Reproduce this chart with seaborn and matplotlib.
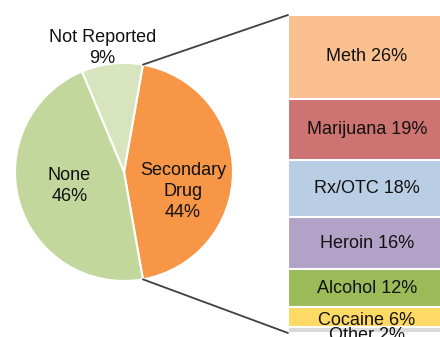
import matplotlib
matplotlib.use("Agg")
import matplotlib.pyplot as plt
from matplotlib.patches import ConnectionPatch
import seaborn as sns
import pandas as pd
import numpy as np

sns.set_theme(style="white")
plt.rcParams["font.family"] = ["Liberation Sans", "DejaVu Sans"]

# Top-level split of cases
pie_labels = ["Secondary\nDrug", "Not Reported", "None"]
pie_values = [44, 9, 46]
pie_colors = ["#F79646", "#D7E4BD", "#C3D69B"]

# Breakdown of the secondary drug slice
drug_labels = ["Meth", "Marijuana", "Rx/OTC", "Heroin", "Alcohol", "Cocaine", "Other"]
drug_values = [26, 19, 18, 16, 12, 6, 2]
drug_colors = ["#FAC090", "#CD7371", "#B9CDE5", "#B3A2C7", "#9BBB59", "#FFD966", "#D9D9D9"]

W, H = 440, 337
fig = plt.figure(figsize=(W / 100, H / 100), dpi=100)

# Pie: centre (124, 172) px, radius 109 px
cx, cy, r = 124, 172, 109
ax_pie = fig.add_axes([(cx - r) / W, (H - cy - r) / H, 2 * r / W, 2 * r / H])
span = pie_values[0] / sum(pie_values) * 360
ax_pie.pie(pie_values, colors=pie_colors, startangle=-span / 2, counterclock=True,
           wedgeprops=dict(edgecolor="white", linewidth=1.5))
ax_pie.set_xlim(-1, 1)
ax_pie.set_ylim(-1, 1)
ax_pie.set_aspect("auto")
ax_pie.axis("off")

label_pos = {
    "Secondary\nDrug": (0.54, -0.18),
    "Not Reported": (-0.20, 1.14),
    "None": (-0.50, -0.13),
}
for lab, val in zip(pie_labels, pie_values):
    x, y = label_pos[lab]
    ax_pie.text(x, y, f"{lab}\n{val}%", ha="center", va="center", fontsize=13,
                color="#111111", linespacing=1.3, clip_on=False)

# Stacked bar: left edge 288 px, spanning y 15..333 px
top_px, bot_px, left_px, right_px = 15, 333, 288, 446
ax_bar = fig.add_axes([left_px / W, (H - bot_px) / H, (right_px - left_px) / W,
                       (bot_px - top_px) / H])
total = sum(drug_values)
cum = list(np.cumsum(drug_values))
df = pd.DataFrame({"drug": drug_labels, "cum": cum, "value": drug_values,
                   "color": drug_colors, "cat": ["all"] * len(drug_labels)})

# Overlay cumulative bars, deepest first, so each segment shows on top of the next
for _, row in df.iloc[::-1].iterrows():
    sns.barplot(x=[row["cat"]], y=[row["cum"]], color=row["color"], width=1.0,
                edgecolor="white", linewidth=1.5, saturation=1, ax=ax_bar)

ax_bar.set_xlim(-0.5, 0.5)
ax_bar.set_ylim(total, 0)
ax_bar.axis("off")

# Thin segments at the bottom get their labels nudged downward
label_shift = {"Cocaine": 1.0, "Other": 1.8}
for _, row in df.iterrows():
    yc = row["cum"] - row["value"] / 2 + label_shift.get(row["drug"], 0)
    ax_bar.text(0.0, yc, f"{row['drug']} {row['value']}%", ha="center", va="center",
                fontsize=13, color="#111111", clip_on=False)

# Connector lines from pie slice edges to the bar
ang = span / 2
for sgn, ybar in [(1, 0), (-1, total)]:
    a = np.deg2rad(sgn * ang)
    con = ConnectionPatch(xyA=(np.cos(a), np.sin(a)), coordsA=ax_pie.transData,
                          xyB=(-0.5, ybar), coordsB=ax_bar.transData,
                          color="#404040", linewidth=1.3)
    fig.add_artist(con)

fig.savefig("out.png", dpi=100)
